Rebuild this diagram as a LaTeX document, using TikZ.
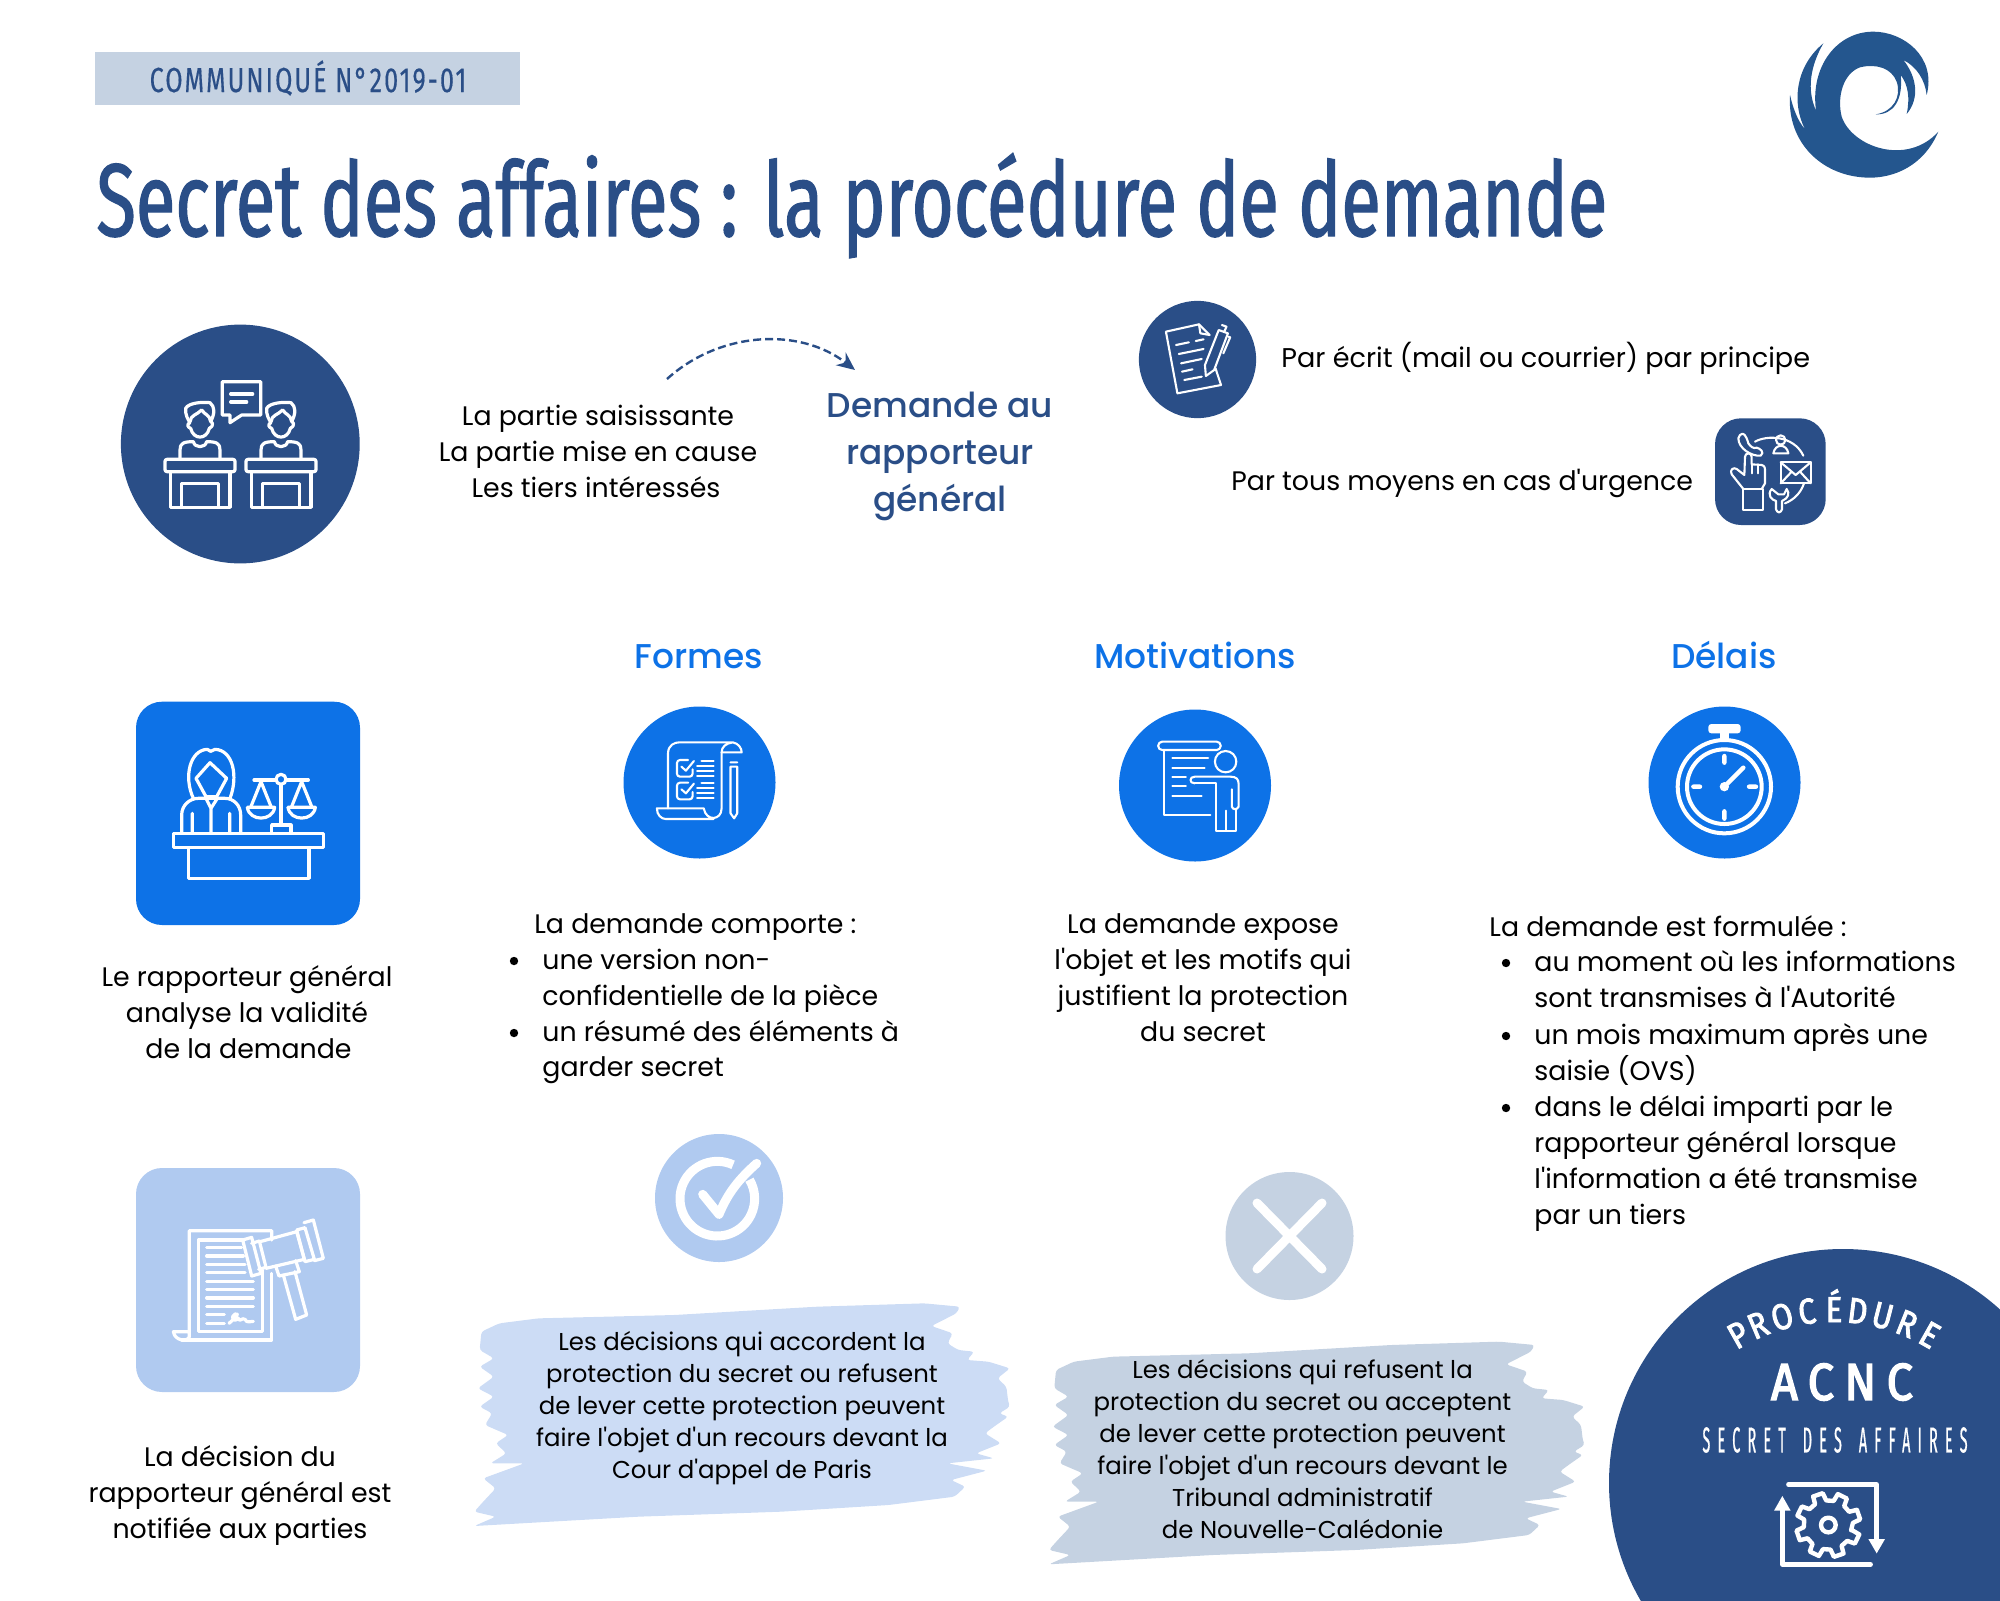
\documentclass[tikz,border=0pt]{standalone}
\usepackage{fontspec}
\usetikzlibrary{arrows.meta,shapes.geometric}
\newfontfamily\pop{Poppins}
\newfontfamily\popm{Poppins Medium}
\newfontfamily\osw[FakeStretch=0.70,FakeBold=1.2]{Fira Sans}
\newfontfamily\oswh[FakeStretch=0.72,LetterSpace=6,FakeBold=0.4]{Fira Sans}
\newfontfamily\oswb[FakeStretch=0.85,LetterSpace=3,FakeBold=2.5]{Fira Sans}
\newfontfamily\oswa[FakeStretch=0.9,LetterSpace=20,FakeBold=3]{Fira Sans}
\newfontfamily\oswt[FakeStretch=0.4,LetterSpace=20,FakeBold=0.5]{Fira Sans}
\definecolor{navy}{HTML}{2A4E87}
\definecolor{vivid}{HTML}{0D72E7}
\definecolor{pale}{HTML}{B0CAF0}
\definecolor{greyb}{HTML}{C5D2E2}
\definecolor{brushb}{HTML}{CCDCF5}
\definecolor{logoc}{HTML}{24568E}
\tikzset{
  body/.style={font=\pop\fontsize{13.4}{18}\selectfont,align=center,inner sep=0pt,text=black},
  lft/.style={font=\pop\fontsize{13.4}{18}\selectfont,anchor=base west,inner sep=0pt,text=black},
  small/.style={font=\pop\fontsize{12.2}{16}\selectfont,align=center,inner sep=0pt,text=black},
  head/.style={font=\popm\fontsize{17.2}{23.5}\selectfont,align=center,inner sep=0pt},
  ico/.style={draw=white,line width=1.6pt,line cap=round,line join=round},
  icot/.style={draw=white,line width=1.05pt,line cap=round,line join=round},
  icog/.style={draw=white,line width=2.2pt,line cap=round,line join=round},
  tile/.style={rounded corners=13pt},
}
\def\brushpath{(60,125)--(110,100)--(220,85)--(600,75)--(1000,50)--(1300,40)--(1400,50)--(1390,70)--(1320,108)--(1380,130)--(1365,160)--(1395,180)--(1440,185)--(1420,210)--(1480,215)--(1540,235)--(1505,265)--(1530,290)--(1535,335)--(1540,350)--(1510,370)--(1535,380)--(1495,410)--(1470,430)--(1515,460)--(1445,490)--(1495,505)--(1365,520)--(1475,542)--(1375,570)--(1415,590)--(1385,620)--(1200,645)--(900,665)--(500,680)--(40,708)--(100,680)--(40,665)--(65,635)--(100,595)--(65,565)--(180,520)--(85,520)--(130,490)--(100,460)--(135,435)--(70,405)--(90,370)--(55,350)--(95,320)--(50,295)--(95,260)--(55,230)--(95,205)--(55,180)--cycle}
\begin{document}
\begin{tikzpicture}[x=0.5pt,y=-0.5pt]
\useasboundingbox (0,0) rectangle (2000,1600);
% header
\fill[greyb] (95,52) rectangle (520,105);
\node[font=\oswh\fontsize{17.4}{20}\selectfont,text=navy,inner sep=0pt] (hdr) at (308,78) {COMMUNIQUÉ N°2019-01};
\node[font=\osw\fontsize{51.7}{56}\selectfont,text=navy,inner sep=0pt,anchor=base west] (title) at (96,236) {Secret des affaires : la procédure de demande};
% logo
\begin{scope}[shift={(1760,10)},scale=1/3]
\fill[logoc] (535,365) .. controls (490,470) and (400,503) .. (330,503) .. controls (190,503) and (80,400) .. (90,255) .. controls (100,300) and (115,335) .. (135,358) .. controls (95,280) and (105,170) .. (190,100) .. controls (150,170) and (140,240) .. (168,302) .. controls (150,170) and (230,65) .. (340,65) .. controls (430,65) and (530,140) .. (500,255) .. controls (495,210) and (470,170) .. (430,150) .. controls (470,200) and (480,265) .. (440,312) .. controls (450,265) and (445,225) .. (422,195) .. controls (430,270) and (400,315) .. (347,313) .. controls (400,305) and (425,260) .. (410,215) .. controls (395,175) and (350,160) .. (300,172) .. controls (250,190) and (230,260) .. (245,320) .. controls (275,410) and (440,470) .. (535,365) -- cycle;
\end{scope}
% big circle icon
\fill[navy] (240.3,444) circle[radius=59.7pt];
\begin{scope}[shift={(100,300)},scale=1/3]
\foreach \dx in {0,243}{
\begin{scope}[xshift=\dx*0.5pt]
\draw[ico,rounded corners=1pt] (195,478) rectangle (405,515);
\draw[ico] (212,515) -- (212,622) -- (390,622) -- (390,515);
\draw[ico] (245,622) -- (245,550) -- (355,550) -- (355,622);
\draw[ico] (240,478) -- (240,450) .. controls (240,430) and (250,425) .. (280,425) .. controls (285,445) and (315,445) .. (320,425) .. controls (350,425) and (360,430) .. (360,450) -- (360,478);
\draw[ico] (272,385) .. controls (280,420) and (320,420) .. (328,385) .. controls (345,375) and (335,365) .. (332,365) .. controls (345,340) and (345,320) .. (330,308) .. controls (300,305) and (265,310) .. (257,325) .. controls (255,345) and (265,360) .. (270,368) .. controls (260,372) and (262,382) .. (272,385);
\draw[ico] (270,365) .. controls (272,345) and (290,345) .. (305,330) .. controls (315,345) and (330,345) .. (332,365);
\end{scope}}
\draw[ico] (367,245) -- (482,245) -- (482,345) -- (425,345) -- (390,368) -- (390,345) -- (367,345) -- cycle;
\draw[ico] (392,282) -- (458,282) (392,306) -- (440,306);
\end{scope}
% arrow & text
\coordinate (arcs) at (667,379);
\coordinate (arce) at (855,370);
\draw[navy,dash pattern=on 4pt off 2pt,line width=1.2pt,-{Stealth[length=9pt,width=8pt]}] (arcs) .. controls (720,331) and (800,327) .. (arce);
\node[body] (parties) at (598,451) {La partie saisissante\\La partie mise en cause\\Les tiers intéressés\hspace*{2pt}};
\node[head,text=navy] (demande) at (940,456) {Demande au\\rapporteur\\général};
% doc icon
\fill[navy] (1197.5,359.5) circle[radius=29.3pt];
\begin{scope}[shift={(1120,280)},xscale=1/2.178,yscale=1/3]
\draw[icot] (195,165) -- (172,133) -- (100,155) -- (125,340) -- (220,315) -- (208,265);
\draw[icot] (172,133) -- (175,160) -- (195,165);
\draw[icot] (122,195)--(150,187) (165,183)--(182,178) (128,222)--(182,207) (133,250)--(178,237) (135,275)--(158,268) (140,300)--(178,290);
\draw[icot] (215,150)--(235,160)--(205,270)--(187,288)--(185,255)--cycle (222,135)--(232,140)--(228,152);
\draw[icot] (236,170)--(240,172)--(225,220);
\end{scope}
\node[lft,font=\pop\fontsize{13.55}{18}\selectfont] (ecrit) at (1281,367) {Par écrit (mail ou courrier) par principe};
\node[lft] (tous) at (1231,490) {Par tous moyens en cas d'urgence};
% multi icon
\fill[navy,tile] (1715,418.3) rectangle (1825.7,525);
\begin{scope}[shift={(1710,415)},scale=1/3]
\draw[icot] (135,80) .. controls (170,60) and (250,60) .. (280,122);
\draw[icot] (282,205) .. controls (272,235) and (250,255) .. (225,265);
\draw[icot] (90,60) .. controls (100,50) and (108,60) .. (115,85) .. controls (122,95) and (130,102) .. (140,98) .. controls (150,100) and (165,112) .. (152,122) .. controls (125,125) and (85,100) .. (85,70) -- cycle;
\draw[icot] (212,75) circle[radius=7pt];
\draw[icot] (190,115) .. controls (195,85) and (230,85) .. (235,115) -- cycle;
\draw[icot] (212,142) rectangle (302,205);
\draw[icot] (212,142) -- (257,180) -- (302,142) (212,205) -- (245,170) (302,205) -- (270,170);
\draw[icot] (98,222) rectangle (158,285);
\draw[icot] (100,222) -- (65,178) .. controls (58,165) and (70,155) .. (80,162) -- (103,180) -- (105,125) .. controls (106,112) and (124,112) .. (125,125) -- (125,148) -- (155,150) .. controls (165,152) and (165,160) .. (165,170) -- (165,205) -- (155,222);
\draw[icot] (125,148) -- (125,175) (145,148) -- (145,175);
\draw[icot] (185,222) .. controls (170,240) and (185,255) .. (198,258) -- (198,283) .. controls (202,295) and (212,295) .. (216,283) -- (216,258) .. controls (235,250) and (240,235) .. (230,222) -- (222,238) -- (205,238) -- cycle;
\end{scope}
% headings
\node[head,text=vivid] (formes) at (699,657) {Formes};
\node[head,text=vivid] (motiv) at (1195,655) {Motivations};
\node[head,text=vivid] (delais) at (1724,655) {Délais};
% tile judge
\fill[vivid,tile] (136,701.7) rectangle (360,925);
\begin{scope}[shift={(130,690)},scale=1/3]
\draw[ico] (130,430) rectangle (580,473);
\draw[ico] (175,473) -- (175,565) -- (537,565) -- (537,473);
\draw[ico] (190,325) .. controls (160,260) and (180,180) .. (232,178) -- (242,184) -- (255,178) .. controls (310,180) and (325,260) .. (300,325);
\draw[ico] (240,218) -- (198,265) -- (228,320) -- (260,320) -- (290,265) -- cycle;
\draw[ico] (155,430) -- (155,375) .. controls (155,345) and (180,325) .. (205,325) -- (285,325) .. controls (310,325) and (332,345) .. (332,375) -- (332,430);
\draw[ico] (228,325) -- (243,355) -- (262,325) (243,355) -- (243,430) (187,370) -- (187,430) (299,370) -- (299,430);
\draw[ico] (372,270) -- (437,270) (469,270) -- (535,270);
\draw[ico] (453,268) circle[radius=7.5pt];
\draw[ico] (453,283) -- (453,405) (425,430) -- (425,405) -- (483,405) -- (483,430);
\foreach \c in {393,515}{
\draw[ico] (\c,275) -- (\c-31,352) (\c,275) -- (\c+31,352);
\draw[ico] (\c-41,352) -- (\c+41,352) .. controls (\c+35,395) and (\c-35,395) .. (\c-41,352);
}
\end{scope}
\node[body] (rapp) at (247,1012) {Le rapporteur général\\analyse la validité\hspace*{5pt}\\\hspace*{1.5pt}de la demande};
% tile gavel
\fill[pale,tile] (136,1168) rectangle (360,1392);
\begin{scope}[shift={(130,1160)},scale=1/3]
\draw[ico] (425,240) -- (425,212) -- (178,212) -- (178,530) .. controls (175,545) and (135,545) .. (130,515) -- (178,515);
\draw[ico] (425,340) -- (425,540) -- (155,540);
\draw[ico] (340,240) -- (205,240) -- (205,515) -- (398,515) -- (398,330);
\draw[ico] (230,263)--(335,263) (230,288)--(340,288) (230,313)--(345,313) (230,338)--(345,338) (230,364)--(370,364) (230,389)--(370,389) (230,414)--(370,414) (230,439)--(370,439) (230,464)--(283,464) (230,490)--(283,490);
\draw[ico] (297,490) .. controls (320,470) and (330,460) .. (315,462) .. controls (300,470) and (310,490) .. (325,475) .. controls (330,490) and (335,470) .. (345,478) .. controls (350,490) and (360,484) .. (370,484);
\draw[ico] (338,240) -- (365,232) -- (393,340) -- (365,348) -- cycle;
\draw[ico] (365,250) -- (388,243) -- (408,322) -- (386,328);
\draw[ico] (390,245) -- (500,215) -- (523,298) -- (408,325);
\draw[ico] (500,210) -- (525,203) -- (553,298) -- (525,305) -- cycle;
\draw[ico] (522,188) -- (550,180) -- (580,295) -- (553,302);
\draw[ico] (437,318) -- (447,348) -- (508,335) -- (497,302);
\draw[ico] (460,345) -- (497,478) -- (530,465) -- (495,335);
\end{scope}
\node[body] (notif) at (240,1495.5) {La décision du\\rapporteur général est\\notifiée aux parties};
% formes
\fill[vivid] (699.5,782.5) circle[radius=38pt];
\begin{scope}[shift={(610,700)},xscale=1/2.24,yscale=1/3]
\draw[icot] (130,325) -- (130,160) .. controls (130,135) and (145,127) .. (155,127) -- (275,127) .. controls (288,130) and (295,145) .. (295,157) -- (250,157) .. controls (250,140) and (260,130) .. (275,127);
\draw[icot] (250,157) -- (250,325) .. controls (250,362) and (215,365) .. (210,325) -- (105,325) .. controls (105,345) and (115,357) .. (125,357) -- (232,357);
\draw[icot] (270,200) -- (285,200) -- (285,340) -- (278,355) -- (270,340) -- cycle (270,187) -- (285,187);
\foreach \d in {0,68}{
\begin{scope}[yshift=-\d*0.5pt]
\draw[icot,rounded corners=1.5pt] (175,180) -- (150,180) -- (150,230) -- (185,230) -- (185,208);
\draw[icot] (160,200) -- (170,212) -- (188,183);
\draw[icot] (205,182)--(232,182) (195,197)--(232,197) (195,212)--(232,212) (195,227)--(232,227);
\end{scope}}
\end{scope}
\node[lft] (f0) at (534,933) {La demande comporte :};
\node[lft] (f1) at (542,969) {une version non-};
\node[lft] (f2) at (542,1005) {confidentielle de la pièce};
\node[lft] (f3) at (542,1041) {un résumé des éléments à};
\node[lft] (f4) at (542,1076) {garder secret};
\fill (514,961) circle[radius=2.1pt];
\fill (514,1033) circle[radius=2.1pt];
% motivations
\fill[vivid] (1195,785.5) circle[radius=38pt];
\begin{scope}[shift={(610,700)},xscale=1/2.24,yscale=1/3]
\draw[icot,rounded corners=2pt] (1228,125) rectangle (1368,150);
\draw[icot] (1240,150) -- (1240,345) -- (1345,345);
\draw[icot] (1260,175)--(1340,175) (1260,203)--(1332,203) (1260,231)--(1290,231) (1260,259)--(1290,259) (1260,287)--(1325,287);
\draw[icot] (1379,185) ellipse[x radius=12pt,y radius=16pt];
\draw[icot] (1310,250) .. controls (1297,250) and (1297,230) .. (1310,230) -- (1390,230) .. controls (1403,230) and (1408,238) .. (1408,250) -- (1408,320) .. controls (1405,330) and (1395,330) .. (1393,320) -- (1393,268);
\draw[icot] (1402,328) -- (1402,392) -- (1358,392) -- (1358,250) -- (1310,250) (1380,332) -- (1380,392);
\end{scope}
\node[body] (motxt) at (1203,977.5) {La demande expose\\l'objet et les motifs qui\\justifient la protection\\du secret};
% delais
\fill[vivid] (1724.5,782.5) circle[radius=38pt];
\begin{scope}[shift={(1630,700)},scale=1/3]
\draw[white,line width=2pt] (283,260) circle[radius=70pt];
\draw[white,line width=2pt] (283,260) circle[radius=56pt];
\fill[white,rounded corners=1.5pt] (235,72) rectangle (332,100);
\fill[white] (270,100) rectangle (297,118);
\draw[white,line width=2.2pt,line cap=round] (283,168)--(283,188) (283,334)--(283,356) (190,260)--(210,260) (357,260)--(378,260) (283,260)--(340,203);
\fill[white] (283,260) circle[radius=7pt];
\end{scope}
\node[lft] (d0) at (1489,936) {La demande est formulée :};
\node[lft] (d1) at (1534,971) {au moment où les informations};
\node[lft] (d2) at (1534,1007) {sont transmises à l'Autorité};
\node[lft] (d3) at (1534,1044) {un mois maximum après une};
\node[lft] (d4) at (1534,1080) {saisie (OVS)};
\node[lft] (d5) at (1534,1116) {dans le délai imparti par le};
\node[lft] (d6) at (1534,1152) {rapporteur général lorsque};
\node[lft] (d7) at (1534,1188) {l'information a été transmise};
\node[lft] (d8) at (1534,1224) {par un tiers};
\fill (1506,963) circle[radius=2.1pt];
\fill (1506,1036) circle[radius=2.1pt];
\fill (1506,1108) circle[radius=2.1pt];
% check circle
\fill[pale] (719,1198) circle[radius=32pt];
\begin{scope}[shift={(640,1125)},scale=1/3]
\coordinate (rings) at (279.3,119.5);
\draw[white,line width=4.5pt] (rings) arc[start angle=65,end angle=390.6,radius=56pt];
\draw[white,line width=4.5pt,line cap=round,line join=round] (188,208) -- (237,268) .. controls (265,200) and (300,160) .. (350,115);
\end{scope}
% cross circle
\fill[greyb] (1289.5,1236) circle[radius=32pt];
\draw[white,line width=4.5pt,line cap=round] (1257,1203) -- (1322,1269) (1322,1203) -- (1257,1269);
% brushes
\begin{scope}[shift={(460,1290)},xscale=1/2.8,yscale=1/3]
\fill[brushb,rounded corners=1.5pt] \brushpath;
\end{scope}
\begin{scope}[shift={(1034.6,1328.3)},xscale=1/2.8,yscale=1/3]
\fill[greyb,rounded corners=1.5pt] \brushpath;
\end{scope}
\node[small] (acc) at (742,1408) {Les décisions qui accordent la\\protection du secret ou refusent\\de lever cette protection peuvent\\faire l'objet d'un recours devant la\\Cour d'appel de Paris};
\node[small] (ref) at (1302.5,1449) {Les décisions qui refusent la\\protection du secret ou acceptent\\de lever cette protection peuvent\\faire l'objet d'un recours devant le\\Tribunal administratif\\de Nouvelle-Calédonie};
% bottom-right badge
\begin{scope}
\clip (0,0) rectangle (2000,1600);
\fill[navy] (1843,1483) circle[radius=117pt];
\end{scope}
\foreach \l/\a [count=\i] in {P/-29.5,R/-23,O/-15.5,C/-8,É/0,D/7,U/14.5,R/22,E/29.5}{
  \node[font=\oswb\fontsize{18}{20}\selectfont,text=white,inner sep=0pt,anchor=base,rotate=-\a] (pc\i) at ({1834+182*sin(\a)},{1504-182*cos(\a)}) {\l};
}
\node[font=\oswa\fontsize{26}{28}\selectfont,text=white,inner sep=0pt] (acnc) at (1842,1382) {ACNC};
\node[font=\oswt\fontsize{18}{20}\selectfont,text=white,inner sep=0pt] (sda) at (1835,1440) {SECRET\hspace{3pt} DES\hspace{3pt} AFFAIRES};
\begin{scope}[shift={(1600,1240)},scale=1/3]
\draw[icog] (565,733) -- (830,733) -- (830,900);
\draw[icog] (812,973) -- (547,973) -- (547,810);
\fill[white] (805,897) -- (855,897) -- (830,940) -- cycle;
\fill[white] (522,812) -- (572,812) -- (547,768) -- cycle;
\draw[icog] ({685+70*cos(13)},{855+70*sin(13)})
  \foreach \a in {0,45,...,315}{
    -- ({685+74*cos(\a+12.5)},{855+74*sin(\a+12.5)})
    -- ({685+97*cos(\a+17)},{855+97*sin(\a+17)})
    -- ({685+97*cos(\a+35)},{855+97*sin(\a+35)})
    -- ({685+74*cos(\a+40)},{855+74*sin(\a+40)})
  } -- cycle;
\draw[icog] (685,855) circle[radius=11pt];
\end{scope}
\end{tikzpicture}
\end{document}
